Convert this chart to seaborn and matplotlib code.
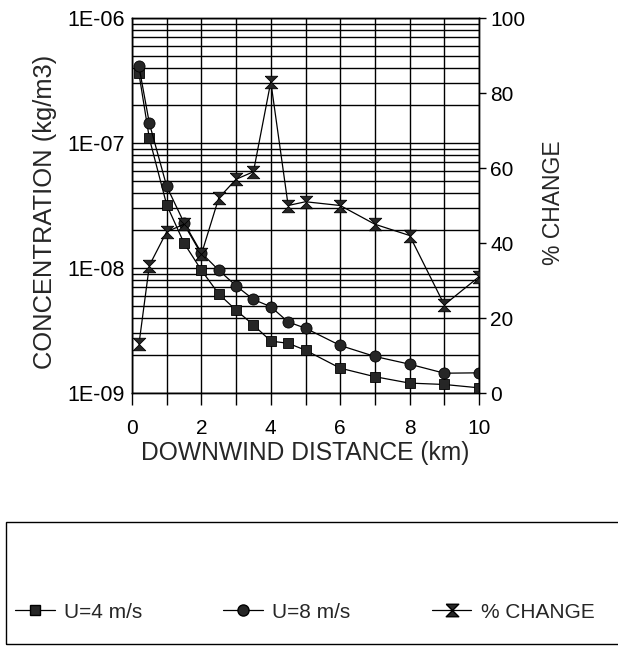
import matplotlib
matplotlib.use("Agg")
import matplotlib.pyplot as plt
import numpy as np
import pandas as pd
import seaborn as sns
from matplotlib.patches import Rectangle
from matplotlib.lines import Line2D
from matplotlib.ticker import FixedLocator, LogLocator, FuncFormatter, NullFormatter, MultipleLocator

# ---- data ----
distance_km = [0.2, 0.5, 1, 1.5, 2, 2.5, 3, 3.5, 4, 4.5, 5, 6, 7, 8, 9, 10]
conc_u4 = [3.6e-7, 1.09e-7, 3.2e-8, 1.58e-8, 9.6e-9, 6.2e-9, 4.6e-9, 3.5e-9,
           2.6e-9, 2.5e-9, 2.2e-9, 1.58e-9, 1.35e-9, 1.2e-9, 1.17e-9, 1.1e-9]
conc_u8 = [4.1e-7, 1.44e-7, 4.5e-8, 2.3e-8, 1.32e-8, 9.6e-9, 7.2e-9, 5.6e-9,
           4.9e-9, 3.7e-9, 3.3e-9, 2.4e-9, 1.96e-9, 1.7e-9, 1.44e-9, 1.45e-9]
pct_change = [13, 34, 43, 45, 37, 52, 57, 59, 83, 50, 51, 50, 45, 42, 23.5, 31]

series_labels = ["U=4 m/s", "U=8 m/s", "% CHANGE"]
left_ticks = [1e-9, 1e-8, 1e-7, 1e-6]
right_ticks = [0, 20, 40, 60, 80, 100]
x_ticks = [0, 2, 4, 6, 8, 10]

df = pd.DataFrame({"x": distance_km, "u4": conc_u4, "u8": conc_u8, "pct": pct_change})

sns.set_theme(style="white")
plt.rcParams["font.family"] = ["Liberation Sans", "DejaVu Sans"]

W, H = 618, 648
fig = plt.figure(figsize=(W / 100, H / 100), dpi=100)
fig.patch.set_facecolor("white")

x0, x1, y0, y1 = 132, 479, 18, 393
ax = fig.add_axes([x0 / W, 1 - y1 / H, (x1 - x0) / W, (y1 - y0) / H])
ax.set_facecolor("white")

hourglass = [(-1, 1), (1, 1), (-1, -1), (1, -1), (-1, 1)]
mcol = "#262626"

sns.lineplot(data=df, x="x", y="u4", ax=ax, color="black", lw=0.9,
             marker="s", markersize=7.5, markerfacecolor=mcol,
             markeredgecolor="black", markeredgewidth=0.6, zorder=5)
sns.lineplot(data=df, x="x", y="u8", ax=ax, color="black", lw=0.9,
             marker="o", markersize=8, markerfacecolor=mcol,
             markeredgecolor="black", markeredgewidth=0.6, zorder=5)

ax.set_yscale("log")
ax.set_ylim(1e-9, 1e-6)
ax.set_xlim(0, 10)

ax.yaxis.set_major_locator(FixedLocator(left_ticks))
ax.yaxis.set_major_formatter(FuncFormatter(lambda v, p: "1E-%02d" % int(round(-np.log10(v)))))
ax.yaxis.set_minor_locator(LogLocator(base=10, subs=np.arange(2, 10)))
ax.yaxis.set_minor_formatter(NullFormatter())
ax.xaxis.set_major_locator(FixedLocator(x_ticks))
ax.xaxis.set_minor_locator(MultipleLocator(1))

ax.grid(True, which="both", axis="both", color="black", lw=1.0)
ax.tick_params(axis="y", which="both", length=0, labelsize=15.5, pad=5, colors="black")
ax.tick_params(axis="x", which="both", direction="out", length=8.6, width=1,
               labelsize=15, pad=10, colors="black", bottom=True)
for s in ax.spines.values():
    s.set_color("black")
    s.set_linewidth(1.0)

ax.set_xlabel("DOWNWIND DISTANCE (km)", fontsize=17.7, labelpad=2)
ax.set_ylabel("CONCENTRATION (kg/m3)", fontsize=18.4)
ax.yaxis.set_label_coords(-(x0 - 57) / (x1 - x0), (y1 - 212) / (y1 - y0))

ax2 = ax.twinx()
sns.lineplot(data=df, x="x", y="pct", ax=ax2, color="black", lw=0.9,
             marker=hourglass, markersize=9, markerfacecolor=mcol,
             markeredgecolor="black", markeredgewidth=0.6, zorder=5)
ax2.set_ylim(0, 100)
ax2.set_yticks(right_ticks)
ax2.tick_params(axis="y", direction="out", length=5, width=1, labelsize=15,
                pad=3, colors="black", right=True)
ax2.set_ylabel("% CHANGE", fontsize=16.5)
ax2.yaxis.set_label_coords(1 + (542 - x1) / (x1 - x0), (y1 - 203) / (y1 - y0))
ax2.grid(False)
for s in ax2.spines.values():
    s.set_color("black")
    s.set_linewidth(1.0)

# ---- legend in a box below the plot ----
box = Rectangle((6 / W, 1 - 644 / H), 1.2, (644 - 522) / H, transform=fig.transFigure,
                fill=False, edgecolor="black", lw=1.0, clip_on=True)
fig.patches.append(box)

handles = [
    Line2D([], [], color="black", lw=0.9, marker="s", markersize=7.5,
           markerfacecolor=mcol, markeredgecolor="black"),
    Line2D([], [], color="black", lw=0.9, marker="o", markersize=8,
           markerfacecolor=mcol, markeredgecolor="black"),
    Line2D([], [], color="black", lw=0.9, marker=hourglass, markersize=9,
           markerfacecolor=mcol, markeredgecolor="black"),
]
fig.legend(handles, series_labels, loc="center left",
           bbox_to_anchor=(15 / W, 1 - 612 / H), ncol=3, frameon=False,
           fontsize=15, handlelength=1.9, handletextpad=0.45,
           columnspacing=3.9, borderpad=0, borderaxespad=0)

fig.savefig("out.png", dpi=100, facecolor="white")
